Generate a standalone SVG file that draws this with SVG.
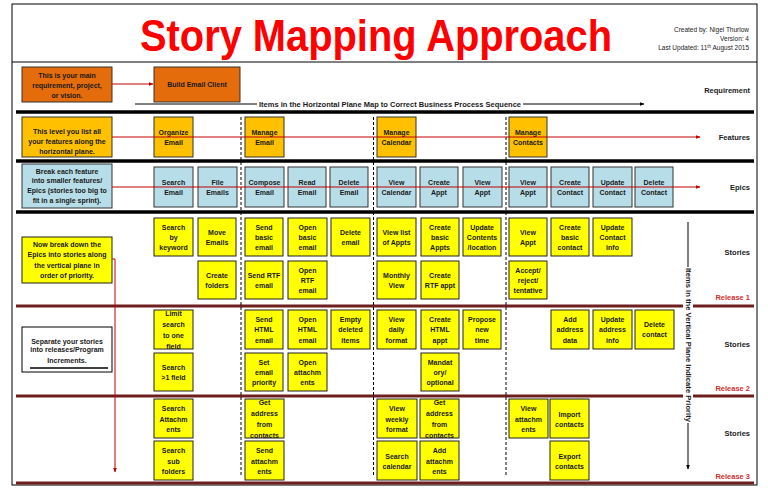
<svg xmlns="http://www.w3.org/2000/svg" width="768" height="497" viewBox="0 0 768 497">
<defs>
<marker id="ar" viewBox="0 0 10 10" refX="9" refY="5" markerWidth="5" markerHeight="5" orient="auto"><path d="M0,1 L10,5 L0,9 z" fill="#C00000"/></marker>
<marker id="ak" viewBox="0 0 10 10" refX="9" refY="5" markerWidth="5" markerHeight="5" orient="auto"><path d="M0,1 L10,5 L0,9 z" fill="#000"/></marker>
<style>
.t{font-family:"Liberation Sans",Arial,sans-serif;font-size:7px;font-weight:bold;text-anchor:middle;fill:#1a1a1a}
.n{font-family:"Liberation Sans",Arial,sans-serif;font-size:7px;font-weight:bold;text-anchor:middle;fill:#1a1a1a}
.lb{font-family:"Liberation Sans",Arial,sans-serif;font-size:7.5px;font-weight:bold;text-anchor:end;fill:#1a1a1a}
.rl{font-family:"Liberation Sans",Arial,sans-serif;font-size:7.5px;font-weight:bold;text-anchor:end;fill:#D03030}
.st{fill:#FFFF00;stroke:#222;stroke-width:1}
.ep{fill:#B7DEE8;stroke:#333;stroke-width:1}
.ft{fill:#FFC000;stroke:#333;stroke-width:1}
.rq{fill:#E46C0A;stroke:#333;stroke-width:1}
.thk{stroke:#000;stroke-width:3.5}
.rel{stroke:#6E1E1E;stroke-width:3}
.dash{stroke:#000;stroke-width:1;stroke-dasharray:3,2}
.red{stroke:#C00000;stroke-width:1;fill:none}
</style>
</defs>
<rect x="0" y="0" width="768" height="497" fill="#fff"/>
<rect x="12" y="4" width="745" height="481" fill="none" stroke="#000" stroke-width="1"/>
<line x1="12" y1="62" x2="757" y2="62" stroke="#000" stroke-width="1"/>

<g id="header">
<text x="376" y="51" font-family="'Liberation Sans',Arial,sans-serif" font-size="44" font-weight="bold" fill="#FF0000" text-anchor="middle" textLength="472" lengthAdjust="spacingAndGlyphs">Story Mapping Approach</text>
<text x="749" y="32" font-family="'Liberation Sans',Arial,sans-serif" font-size="6.5" text-anchor="end" fill="#222">Created by: Nigel Thurlow</text>
<text x="749" y="41" font-family="'Liberation Sans',Arial,sans-serif" font-size="6.5" text-anchor="end" fill="#222">Version: 4</text>
<text x="749" y="50" font-family="'Liberation Sans',Arial,sans-serif" font-size="6.5" text-anchor="end" fill="#222">Last Updated: 11<tspan font-size="4.5" dy="-2.5">th</tspan><tspan dy="2.5"> August 2015</tspan></text>
</g>

<g id="row-lines">
<line x1="16" y1="112" x2="754" y2="112" class="thk"/>
<line x1="16" y1="161" x2="754" y2="161" class="thk"/>
<line x1="16" y1="212" x2="754" y2="212" class="thk"/>
<line x1="16" y1="306" x2="683" y2="306" class="rel"/><line x1="693" y1="306" x2="754" y2="306" class="rel"/>
<line x1="16" y1="396" x2="683" y2="396" class="rel"/><line x1="693" y1="396" x2="754" y2="396" class="rel"/>
<line x1="16" y1="483" x2="754" y2="483" class="rel"/>
<line x1="241" y1="117" x2="241" y2="476" class="dash"/>
<line x1="373.5" y1="117" x2="373.5" y2="476" class="dash"/>
<line x1="506" y1="117" x2="506" y2="476" class="dash"/>
</g>

<g id="row-labels">
<text x="750" y="93" class="lb">Requirement</text>
<text x="750" y="140" class="lb">Features</text>
<text x="750" y="190" class="lb">Epics</text>
<text x="750" y="255" class="lb">Stories</text>
<text x="750" y="300" class="rl">Release 1</text>
<text x="750" y="347" class="lb">Stories</text>
<text x="750" y="391" class="rl">Release 2</text>
<text x="750" y="436" class="lb">Stories</text>
<text x="750" y="479" class="rl">Release 3</text>
</g>

<g id="note-requirement"><rect x="22" y="67" width="90" height="35" class="rq"/>
<text class="n"><tspan x="67" y="77.5">This is your main</tspan><tspan x="67" y="87.5">requirement, project,</tspan><tspan x="67" y="97.5">or vision.</tspan></text></g>
<g id="note-features"><rect x="22" y="117" width="90" height="40" class="ft"/>
<text class="n"><tspan x="67" y="133.5">This level you list all</tspan><tspan x="67" y="143.5">your features along the</tspan><tspan x="67" y="153.5">horizontal plane.</tspan></text></g>
<g id="note-epics"><rect x="22" y="164" width="90" height="44" class="ep"/>
<text class="n"><tspan x="67" y="173.5">Break each feature</tspan><tspan x="67" y="183">into smaller features/</tspan><tspan x="67" y="193">Epics (stories too big to</tspan><tspan x="67" y="202.5">fit in a single sprint).</tspan></text></g>
<g id="note-stories"><rect x="22" y="237" width="90" height="46" class="st"/>
<text class="n"><tspan x="67" y="246.5">Now break down the</tspan><tspan x="67" y="256.5">Epics into stories along</tspan><tspan x="67" y="267.5">the vertical plane in</tspan><tspan x="67" y="277.5">order of priority.</tspan></text></g>
<g id="note-releases"><rect x="22" y="327" width="90" height="45" fill="#fff" stroke="#000"/>
<text class="n"><tspan x="67" y="343.5">Separate your stories</tspan><tspan x="67" y="352">into releases/Program</tspan><tspan x="67" y="363">Increments.</tspan></text>
<line x1="30" y1="368" x2="108" y2="368" stroke="#000" stroke-width="1.5"/></g>

<g id="req-build"><rect x="154" y="67" width="86" height="35" class="rq"/><text class="t" x="197" y="87">Build Email Client</text></g>

<g id="f-organize"><rect x="154" y="117" width="39" height="40" class="ft"/><text class="t"><tspan x="173.5" y="134.5">Organize</tspan><tspan x="173.5" y="144.5">Email</tspan></text></g>
<g id="f-manage-email"><rect x="245" y="117" width="39" height="40" class="ft"/><text class="t"><tspan x="264.5" y="134.5">Manage</tspan><tspan x="264.5" y="144.5">Email</tspan></text></g>
<g id="f-manage-calendar"><rect x="377" y="117" width="39" height="40" class="ft"/><text class="t"><tspan x="396.5" y="134.5">Manage</tspan><tspan x="396.5" y="144.5">Calendar</tspan></text></g>
<g id="f-manage-contacts"><rect x="509" y="117" width="38" height="40" class="ft"/><text class="t"><tspan x="528" y="134.5">Manage</tspan><tspan x="528" y="144.5">Contacts</tspan></text></g>

<g id="e-search-email"><rect x="154" y="167" width="39" height="40" class="ep"/><text class="t"><tspan x="173.5" y="184.5">Search</tspan><tspan x="173.5" y="195">Email</tspan></text></g>
<g id="e-file-emails"><rect x="198" y="167" width="39" height="40" class="ep"/><text class="t"><tspan x="217.5" y="184.5">File</tspan><tspan x="217.5" y="195">Emails</tspan></text></g>
<g id="e-compose-email"><rect x="245" y="167" width="39" height="40" class="ep"/><text class="t"><tspan x="264.5" y="184.5">Compose</tspan><tspan x="264.5" y="195">Email</tspan></text></g>
<g id="e-read-email"><rect x="288" y="167" width="38" height="40" class="ep"/><text class="t"><tspan x="307" y="184.5">Read</tspan><tspan x="307" y="195">Email</tspan></text></g>
<g id="e-delete-email"><rect x="330" y="167" width="38" height="40" class="ep"/><text class="t"><tspan x="349" y="184.5">Delete</tspan><tspan x="349" y="195">Email</tspan></text></g>
<g id="e-view-calendar"><rect x="377" y="167" width="39" height="40" class="ep"/><text class="t"><tspan x="396.5" y="184.5">View</tspan><tspan x="396.5" y="195">Calendar</tspan></text></g>
<g id="e-create-appt"><rect x="420" y="167" width="38" height="40" class="ep"/><text class="t"><tspan x="439" y="184.5">Create</tspan><tspan x="439" y="195">Appt</tspan></text></g>
<g id="e-view-appt"><rect x="463" y="167" width="39" height="40" class="ep"/><text class="t"><tspan x="482.5" y="184.5">View</tspan><tspan x="482.5" y="195">Appt</tspan></text></g>
<g id="e-view-appt2"><rect x="509" y="167" width="38" height="40" class="ep"/><text class="t"><tspan x="528" y="184.5">View</tspan><tspan x="528" y="195">Appt</tspan></text></g>
<g id="e-create-contact"><rect x="551" y="167" width="38" height="40" class="ep"/><text class="t"><tspan x="570" y="184.5">Create</tspan><tspan x="570" y="195">Contact</tspan></text></g>
<g id="e-update-contact"><rect x="593" y="167" width="39" height="40" class="ep"/><text class="t"><tspan x="612.5" y="184.5">Update</tspan><tspan x="612.5" y="195">Contact</tspan></text></g>
<g id="e-delete-contact"><rect x="635" y="167" width="38" height="40" class="ep"/><text class="t"><tspan x="654" y="184.5">Delete</tspan><tspan x="654" y="195">Contact</tspan></text></g>

<!-- Release 1 stories -->
<g id="s1-search-keyword"><rect x="154" y="218" width="39" height="38" class="st"/><text class="t"><tspan x="173.5" y="229.5">Search</tspan><tspan x="173.5" y="239.5">by</tspan><tspan x="173.5" y="249.5">keyword</tspan></text></g>
<g id="s1-move-emails"><rect x="198" y="218" width="38" height="38" class="st"/><text class="t"><tspan x="217" y="234.5">Move</tspan><tspan x="217" y="244.5">Emails</tspan></text></g>
<g id="s1-create-folders"><rect x="198" y="261" width="38" height="38" class="st"/><text class="t"><tspan x="217" y="277.5">Create</tspan><tspan x="217" y="287.5">folders</tspan></text></g>
<g id="s1-send-basic"><rect x="245" y="218" width="38" height="38" class="st"/><text class="t"><tspan x="264" y="229.5">Send</tspan><tspan x="264" y="239.5">basic</tspan><tspan x="264" y="249.5">email</tspan></text></g>
<g id="s1-open-basic"><rect x="288" y="218" width="39" height="38" class="st"/><text class="t"><tspan x="307.5" y="229.5">Open</tspan><tspan x="307.5" y="239.5">basic</tspan><tspan x="307.5" y="249.5">email</tspan></text></g>
<g id="s1-delete-email"><rect x="331" y="218" width="39" height="38" class="st"/><text class="t"><tspan x="350.5" y="234.5">Delete</tspan><tspan x="350.5" y="244.5">email</tspan></text></g>
<g id="s1-view-list"><rect x="377" y="218" width="39" height="38" class="st"/><text class="t"><tspan x="396.5" y="234.5">View list</tspan><tspan x="396.5" y="244.5">of Appts</tspan></text></g>
<g id="s1-create-basic-appts"><rect x="421" y="218" width="38" height="38" class="st"/><text class="t"><tspan x="440" y="229.5">Create</tspan><tspan x="440" y="239.5">basic</tspan><tspan x="440" y="249.5">Appts</tspan></text></g>
<g id="s1-update-contents"><rect x="463" y="218" width="38" height="38" class="st"/><text class="t"><tspan x="482" y="229.5">Update</tspan><tspan x="482" y="239.5">Contents</tspan><tspan x="482" y="249.5">/location</tspan></text></g>
<g id="s1-send-rtf"><rect x="245" y="261" width="38" height="38" class="st"/><text class="t"><tspan x="264" y="277.5">Send RTF</tspan><tspan x="264" y="287.5">email</tspan></text></g>
<g id="s1-open-rtf"><rect x="288" y="261" width="39" height="38" class="st"/><text class="t"><tspan x="307.5" y="272.5">Open</tspan><tspan x="307.5" y="282.5">RTF</tspan><tspan x="307.5" y="292.5">email</tspan></text></g>
<g id="s1-monthly"><rect x="377" y="261" width="39" height="38" class="st"/><text class="t"><tspan x="396.5" y="277.5">Monthly</tspan><tspan x="396.5" y="287.5">View</tspan></text></g>
<g id="s1-create-rtf-appt"><rect x="421" y="261" width="38" height="38" class="st"/><text class="t"><tspan x="440" y="277.5">Create</tspan><tspan x="440" y="287.5">RTF appt</tspan></text></g>
<g id="s1-view-appt"><rect x="509" y="218" width="38" height="38" class="st"/><text class="t"><tspan x="528" y="234.5">View</tspan><tspan x="528" y="244.5">Appt</tspan></text></g>
<g id="s1-create-basic-contact"><rect x="551" y="218" width="38" height="38" class="st"/><text class="t"><tspan x="570" y="229.5">Create</tspan><tspan x="570" y="239.5">basic</tspan><tspan x="570" y="249.5">contact</tspan></text></g>
<g id="s1-update-contact-info"><rect x="593" y="218" width="39" height="38" class="st"/><text class="t"><tspan x="612.5" y="229.5">Update</tspan><tspan x="612.5" y="239.5">Contact</tspan><tspan x="612.5" y="249.5">info</tspan></text></g>
<g id="s1-accept"><rect x="509" y="261" width="38" height="38" class="st"/><text class="t"><tspan x="528" y="272.5">Accept/</tspan><tspan x="528" y="282.5">reject/</tspan><tspan x="528" y="292.5">tentative</tspan></text></g>

<!-- Release 2 stories -->
<g id="s2-limit-search"><rect x="154" y="310" width="39" height="39" class="st"/><text class="t"><tspan x="173.5" y="315.5">Limit</tspan><tspan x="173.5" y="326.5">search</tspan><tspan x="173.5" y="337.5">to one</tspan><tspan x="173.5" y="348.5">field</tspan></text></g>
<g id="s2-search-field"><rect x="154" y="353" width="39" height="38" class="st"/><text class="t"><tspan x="173.5" y="369.5">Search</tspan><tspan x="173.5" y="380">&gt;1 field</tspan></text></g>
<g id="s2-send-html"><rect x="245" y="310" width="38" height="39" class="st"/><text class="t"><tspan x="264" y="321.5">Send</tspan><tspan x="264" y="332">HTML</tspan><tspan x="264" y="342.5">email</tspan></text></g>
<g id="s2-open-html"><rect x="288" y="310" width="39" height="39" class="st"/><text class="t"><tspan x="307.5" y="321.5">Open</tspan><tspan x="307.5" y="332">HTML</tspan><tspan x="307.5" y="342.5">email</tspan></text></g>
<g id="s2-empty-deleted"><rect x="331" y="310" width="39" height="39" class="st"/><text class="t"><tspan x="350.5" y="321.5">Empty</tspan><tspan x="350.5" y="332">deleted</tspan><tspan x="350.5" y="342.5">items</tspan></text></g>
<g id="s2-view-daily"><rect x="377" y="310" width="39" height="39" class="st"/><text class="t"><tspan x="396.5" y="321.5">View</tspan><tspan x="396.5" y="332">daily</tspan><tspan x="396.5" y="342.5">format</tspan></text></g>
<g id="s2-create-html-appt"><rect x="421" y="310" width="38" height="39" class="st"/><text class="t"><tspan x="440" y="321.5">Create</tspan><tspan x="440" y="332">HTML</tspan><tspan x="440" y="342.5">appt</tspan></text></g>
<g id="s2-propose"><rect x="463" y="310" width="38" height="39" class="st"/><text class="t"><tspan x="482" y="321.5">Propose</tspan><tspan x="482" y="332">new</tspan><tspan x="482" y="342.5">time</tspan></text></g>
<g id="s2-set-priority"><rect x="245" y="353" width="38" height="38" class="st"/><text class="t"><tspan x="264" y="364.5">Set</tspan><tspan x="264" y="374.5">email</tspan><tspan x="264" y="384.5">priority</tspan></text></g>
<g id="s2-open-attach"><rect x="288" y="353" width="39" height="38" class="st"/><text class="t"><tspan x="307.5" y="364.5">Open</tspan><tspan x="307.5" y="374.5">attachm</tspan><tspan x="307.5" y="384.5">ents</tspan></text></g>
<g id="s2-mandatory"><rect x="421" y="353" width="38" height="38" class="st"/><text class="t"><tspan x="440" y="364.5">Mandat</tspan><tspan x="440" y="374.5">ory/</tspan><tspan x="440" y="384.5">optional</tspan></text></g>
<g id="s2-add-address"><rect x="551" y="310" width="38" height="39" class="st"/><text class="t"><tspan x="570" y="321.5">Add</tspan><tspan x="570" y="332">address</tspan><tspan x="570" y="342.5">data</tspan></text></g>
<g id="s2-update-address"><rect x="593" y="310" width="39" height="39" class="st"/><text class="t"><tspan x="612.5" y="321.5">Update</tspan><tspan x="612.5" y="332">address</tspan><tspan x="612.5" y="342.5">info</tspan></text></g>
<g id="s2-delete-contact"><rect x="635" y="310" width="39" height="39" class="st"/><text class="t"><tspan x="654.5" y="327">Delete</tspan><tspan x="654.5" y="337">contact</tspan></text></g>

<!-- Release 3 stories -->
<g id="s3-search-attach"><rect x="154" y="399" width="39" height="39" class="st"/><text class="t"><tspan x="173.5" y="411">Search</tspan><tspan x="173.5" y="421.5">Attachm</tspan><tspan x="173.5" y="432">ents</tspan></text></g>
<g id="s3-search-sub"><rect x="154" y="441" width="39" height="39" class="st"/><text class="t"><tspan x="173.5" y="453">Search</tspan><tspan x="173.5" y="463.5">sub</tspan><tspan x="173.5" y="474">folders</tspan></text></g>
<g id="s3-get-address"><rect x="245" y="399" width="39" height="39" class="st"/><text class="t"><tspan x="264.5" y="405">Get</tspan><tspan x="264.5" y="416">address</tspan><tspan x="264.5" y="427">from</tspan><tspan x="264.5" y="438">contacts</tspan></text></g>
<g id="s3-send-attach"><rect x="245" y="441" width="39" height="39" class="st"/><text class="t"><tspan x="264.5" y="453">Send</tspan><tspan x="264.5" y="463.5">attachm</tspan><tspan x="264.5" y="474">ents</tspan></text></g>
<g id="s3-view-weekly"><rect x="377" y="399" width="40" height="39" class="st"/><text class="t"><tspan x="397" y="411">View</tspan><tspan x="397" y="421.5">weekly</tspan><tspan x="397" y="432">format</tspan></text></g>
<g id="s3-get-address2"><rect x="420" y="399" width="39" height="39" class="st"/><text class="t"><tspan x="439.5" y="405">Get</tspan><tspan x="439.5" y="416">address</tspan><tspan x="439.5" y="427">from</tspan><tspan x="439.5" y="438">contacts</tspan></text></g>
<g id="s3-search-calendar"><rect x="377" y="441" width="40" height="39" class="st"/><text class="t"><tspan x="397" y="458.5">Search</tspan><tspan x="397" y="469">calendar</tspan></text></g>
<g id="s3-add-attach"><rect x="420" y="441" width="39" height="39" class="st"/><text class="t"><tspan x="439.5" y="453">Add</tspan><tspan x="439.5" y="463.5">attachm</tspan><tspan x="439.5" y="474">ents</tspan></text></g>
<g id="s3-view-attach"><rect x="509" y="399" width="39" height="39" class="st"/><text class="t"><tspan x="528.5" y="411">View</tspan><tspan x="528.5" y="421.5">attachm</tspan><tspan x="528.5" y="432">ents</tspan></text></g>
<g id="s3-import"><rect x="550" y="399" width="39" height="39" class="st"/><text class="t"><tspan x="569.5" y="416.5">Import</tspan><tspan x="569.5" y="427">contacts</tspan></text></g>
<g id="s3-export"><rect x="550" y="441" width="39" height="39" class="st"/><text class="t"><tspan x="569.5" y="458.5">Export</tspan><tspan x="569.5" y="469">contacts</tspan></text></g>

<g id="connectors">
<line x1="112" y1="84" x2="153" y2="84" class="red" marker-end="url(#ar)"/>
<line x1="112" y1="137" x2="700" y2="137" class="red" marker-end="url(#ar)"/>
<line x1="112" y1="187" x2="700" y2="187" class="red" marker-end="url(#ar)"/>
<polyline points="112,259 115,259 115,472" class="red" marker-end="url(#ar)"/>
<line x1="135" y1="104" x2="257" y2="104" stroke="#000" stroke-width="1"/>
<text x="390" y="106.5" font-family="'Liberation Sans',Arial,sans-serif" font-size="7" font-weight="bold" text-anchor="middle" fill="#1a1a1a" textLength="262" lengthAdjust="spacingAndGlyphs">Items in the Horizontal Plane Map to Correct Business Process Sequence</text>
<line x1="523" y1="104" x2="644" y2="104" stroke="#000" stroke-width="1" marker-end="url(#ak)"/>
<line x1="688" y1="222" x2="688" y2="267" stroke="#000" stroke-width="1"/>
<text transform="translate(688,345) rotate(90)" x="0" y="2.5" font-family="'Liberation Sans',Arial,sans-serif" font-size="7.5" font-weight="bold" text-anchor="middle" fill="#1a1a1a" textLength="154" lengthAdjust="spacingAndGlyphs">Items in the Vertical Plane Indicate Priority</text>
<line x1="688" y1="423" x2="688" y2="469" stroke="#000" stroke-width="1" marker-end="url(#ak)"/>
</g>
</svg>
